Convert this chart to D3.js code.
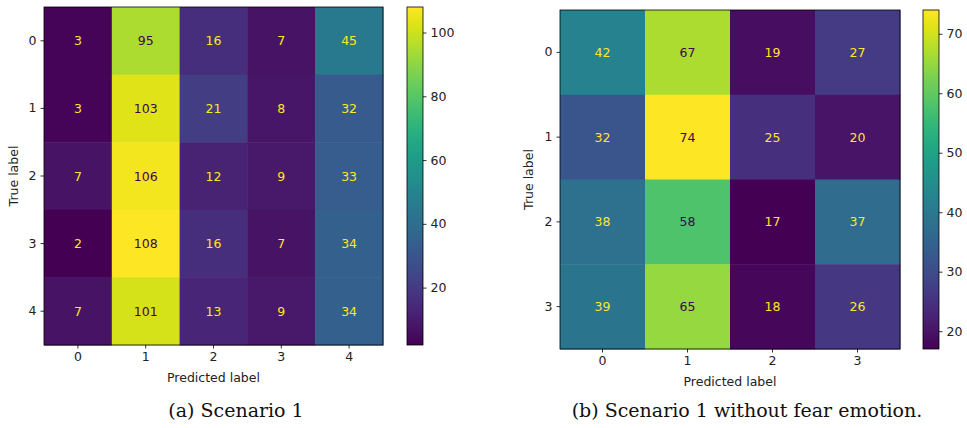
<!DOCTYPE html>
<html>
<head>
<meta charset="utf-8">
<script src="https://cdn.jsdelivr.net/npm/d3@7"></script>
<style>
  body { margin: 0; background: #fff; }
  text { font-family: 'DejaVu Sans', sans-serif; }
  .caption { font-family: 'DejaVu Serif', 'Liberation Serif', serif; }
</style>
</head>
<body>
<svg id="chart" width="967" height="428"></svg>
<script>
'use strict';

// scenario 1 (5 classes)
const labelsA = ['0', '1', '2', '3', '4'];
const matrixA = [
  [3, 95, 16, 7, 45],
  [3, 103, 21, 8, 32],
  [7, 106, 12, 9, 33],
  [2, 108, 16, 7, 34],
  [7, 101, 13, 9, 34],
];
const ticksA = [20, 40, 60, 80, 100];

// scenario 1 without fear (4 classes)
const labelsB = ['0', '1', '2', '3'];
const matrixB = [
  [42, 67, 19, 27],
  [32, 74, 25, 20],
  [38, 58, 17, 37],
  [39, 65, 18, 26],
];
const ticksB = [20, 30, 40, 50, 60, 70];

const svg = d3.select('#chart');
const fs = '12.5px';

function drawMatrix(opt) {
  const g = svg.append('g');
  const flat = opt.matrix.flat();
  const vmin = d3.min(flat);
  const vmax = d3.max(flat);
  const thresh = (vmin + vmax) / 2;
  const color = d3.scaleSequential(d3.interpolateViridis).domain([vmin, vmax]);

  const x = d3.scaleBand().domain(opt.labels).range([opt.left, opt.right]);
  const y = d3.scaleBand().domain(opt.labels).range([opt.top, opt.bottom]);

  const cells = [];
  opt.matrix.forEach(function(row, i) {
    row.forEach(function(v, j) {
      cells.push({ t: opt.labels[i], p: opt.labels[j], v: v });
    });
  });

  g.selectAll('.cell')
    .data(cells)
    .enter()
    .append('rect')
    .attr('x', (d) => x(d.p))
    .attr('y', (d) => y(d.t))
    .attr('width', x.bandwidth() + 0.5)
    .attr('height', y.bandwidth() + 0.5)
    .attr('fill', (d) => color(d.v));

  g.selectAll('.val')
    .data(cells)
    .enter()
    .append('text')
    .attr('x', (d) => x(d.p) + x.bandwidth() / 2)
    .attr('y', (d) => y(d.t) + y.bandwidth() / 2)
    .attr('text-anchor', 'middle')
    .attr('dominant-baseline', 'central')
    .style('font-size', fs)
    .attr('fill', (d) => (d.v < thresh ? color(vmax) : color(vmin)))
    .text((d) => d.v);

  g.append('rect')
    .attr('x', opt.left)
    .attr('y', opt.top)
    .attr('width', opt.right - opt.left)
    .attr('height', opt.bottom - opt.top)
    .attr('fill', 'none')
    .attr('stroke', '#000')
    .attr('stroke-width', 0.8);

  const styleAxis = (a) => {
    a.select('.domain').remove();
    a.selectAll('line').attr('stroke', '#000').attr('stroke-width', 0.8);
    a.selectAll('text')
      .style('font-size', fs)
      .style('font-family', "'DejaVu Sans', sans-serif")
      .attr('fill', '#222');
  };

  g.append('g')
    .attr('transform', 'translate(0,' + opt.bottom + ')')
    .call(d3.axisBottom(x).tickSize(3.5).tickPadding(4))
    .call(styleAxis);

  g.append('g')
    .attr('transform', 'translate(' + opt.left + ',0)')
    .call(d3.axisLeft(y).tickSize(3.5).tickPadding(4))
    .call(styleAxis);

  g.append('text')
    .attr('x', (opt.left + opt.right) / 2)
    .attr('y', opt.bottom + 37)
    .attr('text-anchor', 'middle')
    .style('font-size', fs)
    .attr('fill', '#222')
    .text('Predicted label');

  g.append('text')
    .attr('transform', 'translate(' + opt.ylabX + ',' + (opt.top + opt.bottom) / 2 + ') rotate(-90)')
    .attr('text-anchor', 'middle')
    .style('font-size', fs)
    .attr('fill', '#222')
    .text('True label');

  // colorbar
  const cbW = opt.cbRight - opt.cbLeft;
  const cbScale = d3.scaleLinear().domain([vmin, vmax]).range([opt.bottom, opt.top]);
  const gradId = 'grad' + opt.id;
  const grad = svg.append('defs')
    .append('linearGradient')
    .attr('id', gradId)
    .attr('x1', 0).attr('y1', 1).attr('x2', 0).attr('y2', 0);
  d3.range(0, 1.0001, 0.05).forEach(function(t) {
    grad.append('stop')
      .attr('offset', t)
      .attr('stop-color', d3.interpolateViridis(t));
  });
  g.append('rect')
    .attr('x', opt.cbLeft)
    .attr('y', opt.top)
    .attr('width', cbW)
    .attr('height', opt.bottom - opt.top)
    .attr('fill', 'url(#' + gradId + ')')
    .attr('stroke', '#000')
    .attr('stroke-width', 0.8);

  g.append('g')
    .attr('transform', 'translate(' + opt.cbRight + ',0)')
    .call(d3.axisRight(cbScale).tickValues(opt.ticks).tickSize(3.5).tickPadding(4))
    .call(styleAxis);

  svg.append('text')
    .attr('class', 'caption')
    .attr('x', opt.capX)
    .attr('y', 417)
    .attr('text-anchor', 'middle')
    .style('font-size', '19px')
    .attr('fill', '#111')
    .text(opt.caption);
}

drawMatrix({
  id: 'a',
  labels: labelsA,
  matrix: matrixA,
  ticks: ticksA,
  left: 44, right: 383, top: 7, bottom: 345,
  cbLeft: 407, cbRight: 423,
  ylabX: 18,
  capX: 236,
  caption: '(a) Scenario 1',
});

drawMatrix({
  id: 'b',
  labels: labelsB,
  matrix: matrixB,
  ticks: ticksB,
  left: 560, right: 900, top: 10, bottom: 349,
  cbLeft: 923, cbRight: 939,
  ylabX: 533,
  capX: 747,
  caption: '(b) Scenario 1 without fear emotion.',
});
</script>
</body>
</html>
